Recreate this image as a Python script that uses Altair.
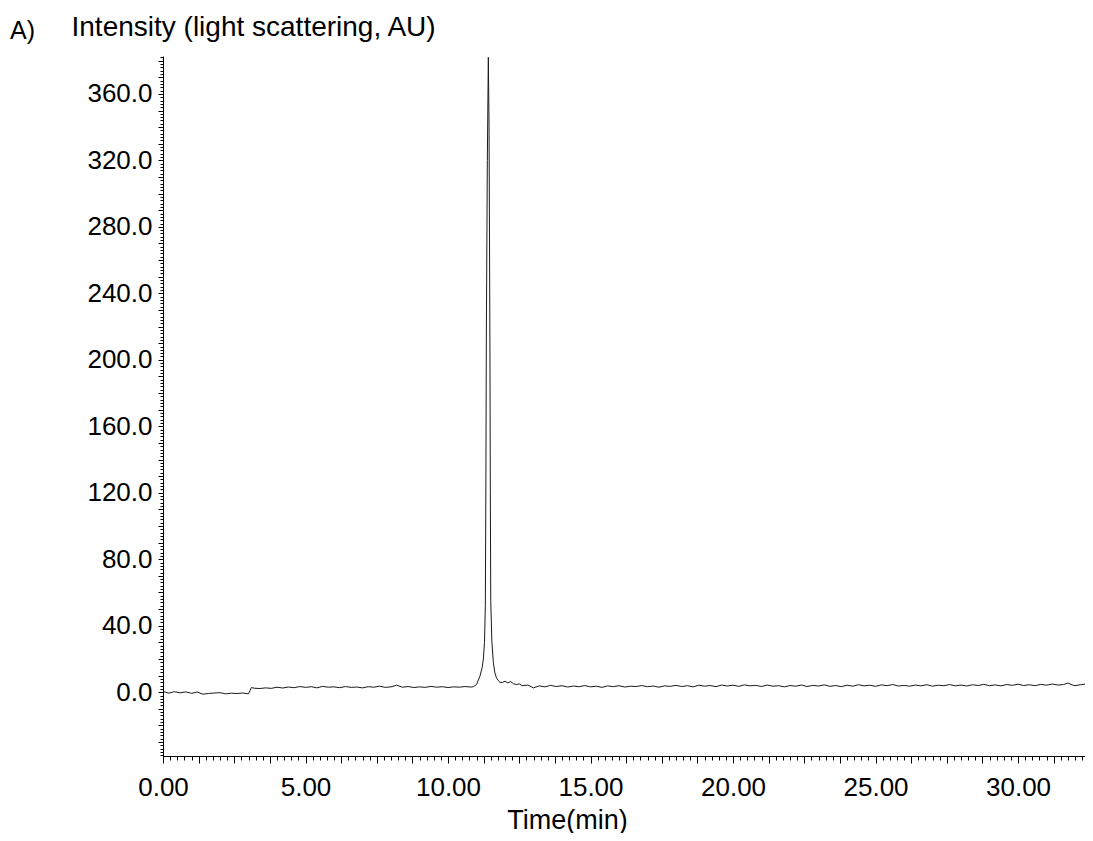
import altair as alt
import pandas as pd
import numpy as np

# ---- data ----
# baseline before the peak (time in min, intensity AU)
pre_t = [0.0, 0.2, 0.4, 0.6, 0.8, 1.0, 1.2, 1.4, 1.6, 1.8, 2.0, 2.2, 2.4, 2.6, 2.8, 3.0,
         3.1, 3.2, 3.4, 3.6, 3.8, 4.0, 4.2, 4.4, 4.6, 4.8, 5.0, 5.2, 5.4, 5.6, 5.8, 6.0,
         6.2, 6.4, 6.6, 6.8, 7.0, 7.2, 7.4, 7.6, 7.8, 8.0, 8.2, 8.4, 8.6, 8.8, 9.0, 9.2,
         9.4, 9.6, 9.8, 10.0, 10.2, 10.4, 10.6, 10.8]
pre_v = [0.5, -0.6, 0.3, -0.4, 0.2, -0.7, 0.1, -1.2, -0.8, -0.5, -0.3, -1.0, -0.6, -0.8, -0.5, -1.0,
         2.8, 2.4, 2.2, 2.6, 2.3, 3.0, 2.5, 3.1, 2.7, 3.4, 2.9, 3.3, 2.6, 3.5, 3.0, 3.2,
         2.7, 3.4, 2.9, 3.1, 2.6, 3.3, 3.0, 3.6, 2.9, 3.2, 4.2, 3.0, 3.4, 2.8, 3.2, 2.9,
         3.5, 3.0, 3.3, 2.8, 3.2, 3.0, 3.4, 3.1]

# the main peak
peak_t = [10.89, 11.0, 11.12, 11.2, 11.24, 11.28, 11.31, 11.33, 11.345, 11.38, 11.415,
          11.44, 11.47, 11.485, 11.5, 11.54, 11.59, 11.64, 11.7, 11.76, 11.82]
peak_v = [3.3, 4.6, 9.6, 15.0, 20.0, 30.0, 52.0, 130.0, 213.0, 320.0, 382.0,
          340.0, 213.0, 120.0, 55.0, 30.0, 18.0, 12.0, 8.6, 7.0, 6.0]

# baseline after the peak
post_t = [11.9, 12.0, 12.1, 12.2, 12.3, 12.4, 12.5, 12.6, 12.8, 13.0, 13.2, 13.4, 13.6, 13.8,
          14.0, 14.2, 14.4, 14.6, 14.8, 15.0, 15.2, 15.4, 15.6, 15.8, 16.0, 16.2, 16.4, 16.6,
          16.8, 17.0, 17.2, 17.4, 17.6, 17.8, 18.0, 18.2, 18.4, 18.6, 18.8, 19.0, 19.2, 19.4,
          19.6, 19.8, 20.0, 20.2, 20.4, 20.6, 20.8, 21.0, 21.2, 21.4, 21.6, 21.8, 22.0, 22.2,
          22.4, 22.6, 22.8, 23.0, 23.2, 23.4, 23.6, 23.8, 24.0, 24.2, 24.4, 24.6, 24.8, 25.0,
          25.2, 25.4, 25.6, 25.8, 26.0, 26.2, 26.4, 26.6, 26.8, 27.0, 27.2, 27.4, 27.6, 27.8,
          28.0, 28.2, 28.4, 28.6, 28.8, 29.0, 29.2, 29.4, 29.6, 29.8, 30.0, 30.2, 30.4, 30.6,
          30.8, 31.0, 31.2, 31.4, 31.6, 31.75, 31.9, 32.0, 32.2, 32.4, 32.6]
post_v = [5.8, 6.6, 5.6, 6.4, 5.0, 4.6, 5.0, 3.9, 4.3, 2.6, 3.8, 3.2, 4.1, 3.4,
          3.9, 3.1, 3.7, 3.3, 4.0, 3.2, 3.6, 2.9, 3.8, 3.3, 3.9, 3.1, 3.6, 3.4,
          4.0, 3.3, 3.7, 3.0, 3.8, 3.5, 4.1, 3.4, 3.9, 3.2, 4.2, 3.6, 4.0, 3.3,
          4.3, 3.7, 4.2, 3.5, 4.4, 3.8, 4.1, 3.4, 4.3, 3.6, 3.9, 3.2, 4.0, 3.6,
          4.3, 3.4, 4.1, 3.7, 4.4, 3.5, 4.0, 3.3, 4.2, 3.6, 4.5, 3.8, 4.2, 3.5,
          4.4, 3.9, 4.6, 3.7, 4.1, 3.6, 4.3, 3.8, 4.5, 3.6, 4.2, 3.9, 4.6, 3.8,
          4.3, 3.7, 4.5, 4.0, 4.7, 3.9, 4.4, 3.8, 4.6, 4.1, 4.8, 4.0, 4.5, 3.9,
          4.7, 4.2, 4.9, 4.3, 4.6, 5.5, 4.4, 3.9, 4.5, 5.0, 5.6]

x_labels = [0, 5, 10, 15, 20, 25, 30]
y_labels = [0, 40, 80, 120, 160, 200, 240, 280, 320, 360]

df = pd.DataFrame({"time": pre_t + peak_t + post_t,
                   "signal": pre_v + peak_v + post_v})

FONT = "Liberation Sans"
X_DOMAIN = [0, 32.35]
Y_DOMAIN = [-38.4, 382.8]

xscale = alt.Scale(domain=X_DOMAIN, nice=False, zero=False)
yscale = alt.Scale(domain=Y_DOMAIN, nice=False, zero=False)

x_major = list(np.round(np.arange(0, 32.4, 1.25), 4))
x_minor = list(np.round(np.arange(0, 32.36, 0.25), 4))
y_major = list(np.arange(-30, 381, 10))
y_minor = list(np.arange(-38, 383, 2))

base = alt.Chart(df)

main = base.mark_line(color="#1a1a1a", strokeWidth=1, clip=True).encode(
    x=alt.X("time:Q", scale=xscale,
            axis=alt.Axis(values=x_major, tickSize=7, tickColor="black", tickWidth=1,
                          domainColor="black", domainWidth=1, grid=False,
                          labelExpr="datum.value % 5 == 0 ? format(datum.value, '.2f') : ''",
                          labelFont=FONT, labelFontSize=26, labelColor="black",
                          labelPadding=11, labelFlush=False, labelOverlap=False,
                          title="Time(min)", titleFont=FONT, titleFontSize=27,
                          titleFontWeight="normal", titleColor="black",
                          titleX=404, titleY=72, titleAlign="center",
                          titleBaseline="alphabetic", orient="bottom")),
    y=alt.Y("signal:Q", scale=yscale,
            axis=alt.Axis(values=y_major, tickSize=5, tickColor="black", tickWidth=1,
                          domainColor="black", domainWidth=1, grid=False,
                          labelExpr="datum.value % 40 == 0 && datum.value >= 0 ? format(datum.value, '.1f') : ''",
                          labelFont=FONT, labelFontSize=26, labelColor="black",
                          labelPadding=6, labelFlush=False, labelOverlap=False,
                          title="Intensity (light scattering, AU)", titleFont=FONT,
                          titleFontSize=28, titleFontWeight="normal", titleColor="black",
                          titleAngle=0, titleAlign="left", titleBaseline="alphabetic",
                          titleX=-92, titleY=-21, orient="left")),
)

minor = base.mark_line(opacity=0).encode(
    x=alt.X("time:Q", scale=xscale,
            axis=alt.Axis(values=x_minor, tickSize=4, tickColor="black", tickWidth=1,
                          domain=False, labels=False, grid=False, title="",
                          orient="bottom")),
    y=alt.Y("signal:Q", scale=yscale,
            axis=alt.Axis(values=y_minor, tickSize=3, tickColor="black", tickWidth=1,
                          domain=False, labels=False, grid=False, title="",
                          orient="left")),
)

panel = alt.Chart(pd.DataFrame({"label": ["A)"]})).mark_text(
    align="left", baseline="alphabetic", font=FONT, fontSize=25, color="black"
).encode(x=alt.value(-153), y=alt.value(-17), text="label:N")

chart = alt.layer(main, minor, panel).resolve_axis(
    x="independent", y="independent"
).properties(
    width=922, height=700,
    background="white",
    autosize=alt.AutoSizeParams(type="none"),
    padding={"left": 155, "top": 48, "right": 0, "bottom": 77},
).configure_view(stroke=None)

chart.save("out.html", embed_options={"renderer": "svg", "actions": False})
